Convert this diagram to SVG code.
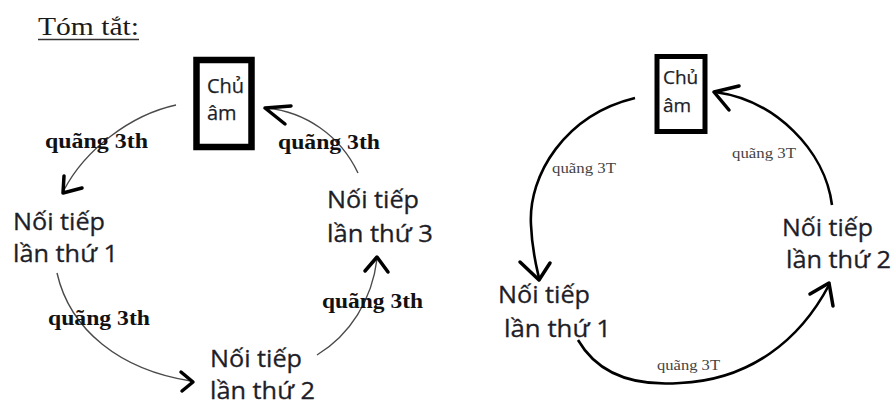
<svg xmlns="http://www.w3.org/2000/svg" width="896" height="403" viewBox="0 0 896 403">
  <style>
    .title { font-family: "Liberation Serif", "DejaVu Serif", serif; font-size: 26px; fill: #1a1a1a; }
    .node { font-family: "Open Sans", "Liberation Sans", sans-serif; font-size: 24px; fill: #1e1e28; stroke: #1e1e28; stroke-width: 0.3; }
    .root { font-family: "Open Sans", "Liberation Sans", sans-serif; fill: #1e1e28; stroke: #1e1e28; stroke-width: 0.25; }
    .box { fill: #ffffff; stroke: #000000; }
    .lbl-b { font-family: "Liberation Serif", "DejaVu Serif", serif; font-size: 20px; font-weight: bold; fill: #111111; }
    .lbl-s { font-family: "Liberation Serif", "DejaVu Serif", serif; font-size: 15px; fill: #444444; }
    .arc-thin { fill: none; stroke: #4a4a4a; stroke-width: 1.4; }
    .arc-thick { fill: none; stroke: #000000; stroke-width: 2.6; }
    .head { fill: none; stroke: #000000; stroke-width: 3.5; stroke-linecap: round; stroke-linejoin: round; }
  </style>

  <rect width="896" height="403" fill="#ffffff"/>

  <!-- heading -->
  <g id="heading">
    <text class="title" x="38" y="35" textLength="101" lengthAdjust="spacingAndGlyphs">Tóm tắt:</text>
    <line x1="38" y1="39.5" x2="139" y2="39.5" stroke="#333333" stroke-width="1.6"/>
  </g>

  <!-- left cycle: three successive thirds -->
  <g id="root-left">
    <rect class="box" x="196.5" y="60" width="55" height="87" stroke-width="6.5"/>
    <text class="root" x="207" y="93" font-size="20">Chủ</text>
    <text class="root" x="207" y="120" font-size="20">âm</text>
  </g>
  <g id="left-n1">
    <text class="node" x="13" y="230" textLength="92" lengthAdjust="spacingAndGlyphs">Nối tiếp</text>
    <text class="node" x="13" y="262" textLength="105" lengthAdjust="spacingAndGlyphs">lần thứ 1</text>
  </g>
  <g id="left-n2">
    <text class="node" x="210" y="367" textLength="92" lengthAdjust="spacingAndGlyphs">Nối tiếp</text>
    <text class="node" x="210" y="399" textLength="105" lengthAdjust="spacingAndGlyphs">lần thứ 2</text>
  </g>
  <g id="left-n3">
    <text class="node" x="327" y="208" textLength="92" lengthAdjust="spacingAndGlyphs">Nối tiếp</text>
    <text class="node" x="327" y="242" textLength="106" lengthAdjust="spacingAndGlyphs">lần thứ 3</text>
  </g>

  <!-- right cycle: two successive thirds -->
  <g id="root-right">
    <rect class="box" x="657" y="56.5" width="48" height="75" stroke-width="5"/>
    <text class="root" x="663" y="84" font-size="19">Chủ</text>
    <text class="root" x="663" y="112" font-size="19">âm</text>
  </g>
  <g id="right-n1">
    <text class="node" x="498" y="303" textLength="92" lengthAdjust="spacingAndGlyphs">Nối tiếp</text>
    <text class="node" x="504" y="337" textLength="107" lengthAdjust="spacingAndGlyphs">lần thứ 1</text>
  </g>
  <g id="right-n2">
    <text class="node" x="782" y="236" textLength="91" lengthAdjust="spacingAndGlyphs">Nối tiếp</text>
    <text class="node" x="786" y="268" textLength="105" lengthAdjust="spacingAndGlyphs">lần thứ 2</text>
  </g>

  <!-- connectors with their interval labels -->
  <g id="connectors">
    <!-- left cycle -->
    <path class="arc-thin" d="M176,105 C130,115 85,150 64,190"/>
    <path class="head" d="M64,176 L63,193 L82,188"/>
    <path class="arc-thin" d="M57,273 C70,330 120,370 191,381"/>
    <path class="head" d="M181,372 L193,382 L182,391"/>
    <path class="arc-thin" d="M317,355 C350,335 372,300 377,259"/>
    <path class="head" d="M365,271 L377,257 L388,272"/>
    <path class="arc-thin" d="M358,173 C340,135 305,112 267,108"/>
    <path class="head" d="M291,106 L265,108 L285,124"/>

    <text class="lbl-b" x="45" y="148" textLength="103" lengthAdjust="spacingAndGlyphs">quãng 3th</text>
    <text class="lbl-b" x="278" y="149" textLength="102" lengthAdjust="spacingAndGlyphs">quãng 3th</text>
    <text class="lbl-b" x="48" y="325" textLength="102" lengthAdjust="spacingAndGlyphs">quãng 3th</text>
    <text class="lbl-b" x="322" y="308" textLength="101" lengthAdjust="spacingAndGlyphs">quãng 3th</text>

    <!-- right cycle -->
    <path class="arc-thick" d="M635,98 C565,115 528,175 531,225 C532,250 536,265 539,278"/>
    <path class="head" d="M520,262 L539,280 L550,263"/>
    <path class="arc-thick" d="M578,340 C600,378 640,386 680,383 C750,380 800,340 829,285"/>
    <path class="head" d="M810,294 L829,283 L833,306"/>
    <path class="arc-thick" d="M832,205 C825,150 775,100 715,92"/>
    <path class="head" d="M739,86 L714,92 L729,110"/>

    <text class="lbl-s" x="552" y="173" textLength="64" lengthAdjust="spacingAndGlyphs">quãng 3T</text>
    <text class="lbl-s" x="732" y="158" textLength="64" lengthAdjust="spacingAndGlyphs">quãng 3T</text>
    <text class="lbl-s" x="657" y="370" textLength="63" lengthAdjust="spacingAndGlyphs">quãng 3T</text>
  </g>
</svg>
